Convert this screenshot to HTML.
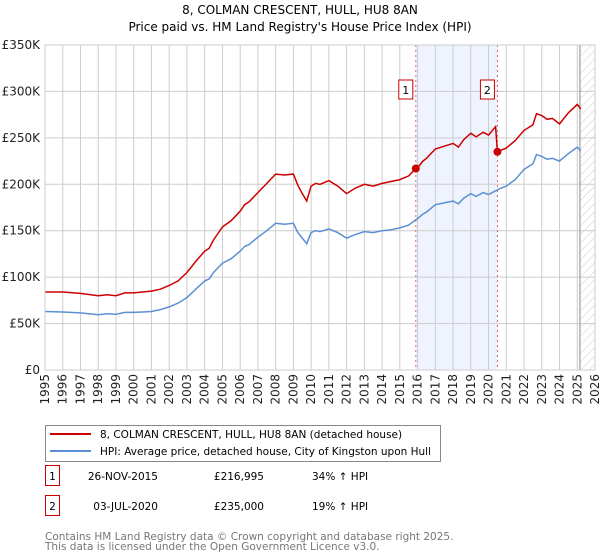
<!DOCTYPE html>
<html><head><meta charset="utf-8"><style>
body{margin:0;background:#fff;font-family:"DejaVu Sans","Liberation Sans",sans-serif;}
#wrap{position:relative;width:600px;height:560px;overflow:hidden}
svg text{font-family:"DejaVu Sans","Liberation Sans",sans-serif}
</style></head><body><div id="wrap">
<svg id="chart" width="600" height="560"></svg>
</div>
<script>
const dates=[1995,1996,1997,1998,1998.5,1999,1999.5,2000,2000.5,2001,2001.5,2002,2002.5,2003,2003.5,2004,2004.25,2004.5,2005,2005.5,2006,2006.25,2006.5,2007,2007.5,2008,2008.5,2009,2009.25,2009.5,2009.75,2010,2010.25,2010.5,2011,2011.5,2012,2012.5,2013,2013.5,2014,2014.5,2015,2015.5,2015.9,2016,2016.3,2016.5,2017,2017.5,2018,2018.3,2018.6,2019,2019.3,2019.7,2020,2020.4,2020.5,2020.6,2021,2021.5,2022,2022.5,2022.7,2023,2023.3,2023.6,2024,2024.5,2025,2025.2];
const hpiValues=[63,62.5,61.5,59.5,60.5,60,62,62,62.5,63,65,68,72,78,87,96,98,105,115,120,128,133,135,143,150,158,157,158,148,142,136,148,150,149,152,148,142,146,149,148,150,151,153,156,162,163,168,170,178,180,182,179,185,190,187,191,189,193,194,195,198,205,216,222,232,230,227,228,225,233,240,236];
const priceValues=[84,84,82.5,80,81,80,83,83,84,85,87,91,96,105,117,128,131,140,154,161,171,178,181,191,201,211,210,211,199,190,182,198,201,200,204,198,190,196,200,198,201,203,205,209,217,218,225,228,238,241,244,240,248,255,251,256,253,262,235,236,239,247,258,264,276,274,270,271,265,277,286,281];
const yTicks=[0,50,100,150,200,250,300,350];
const yTickLabels=["£0","£50K","£100K","£150K","£200K","£250K","£300K","£350K"];
const xYears=[1995,1996,1997,1998,1999,2000,2001,2002,2003,2004,2005,2006,2007,2008,2009,2010,2011,2012,2013,2014,2015,2016,2017,2018,2019,2020,2021,2022,2023,2024,2025,2026];
const saleDates=[2015.9,2020.5];
const saleValues=[216.995,235];
const saleLabels=["1","2"];
const NS="http://www.w3.org/2000/svg";
const svg=document.getElementById('chart');
const L=45,R=595,T=45,B=370;
const x=d=>L+(d-1995)/(2026-1995)*(R-L);
const y=v=>B-v/350*(B-T);
function mk(tag,attrs,parent){const e=document.createElementNS(NS,tag);for(const k in attrs)e.setAttribute(k,attrs[k]);(parent||svg).appendChild(e);return e;}
function txt(s,attrs){const e=mk('text',attrs);e.textContent=s;return e;}
// title
let t=txt("8, COLMAN CRESCENT, HULL, HU8 8AN",{x:300,y:14,'text-anchor':'middle','font-size':12});

t=txt("Price paid vs. HM Land Registry's House Price Index (HPI)",{x:300,y:31,'text-anchor':'middle','font-size':12});

// shaded band
let band=mk('rect',{x:x(saleDates[0]),y:T,width:x(saleDates[1])-x(saleDates[0]),height:B-T,fill:'#eef3fd'});

// hatch
const defs=mk('defs',{});
const pat=mk('pattern',{id:'hatch',width:6,height:6,patternUnits:'userSpaceOnUse',patternTransform:'rotate(45)'},defs);
mk('line',{x1:0,y1:0,x2:0,y2:6,stroke:'#ccc','stroke-width':1},pat);
let h=mk('rect',{x:x(2025.2),y:T,width:R-x(2025.2),height:B-T,fill:'url(#hatch)'});

// grid
yTicks.forEach((v,i)=>{const g=mk('line',{x1:L,x2:R,y1:y(v),y2:y(v),stroke:'#ccc','stroke-width':1});

const lb=txt(yTickLabels[i],{x:L-5,y:y(v)+4,'text-anchor':'end','font-size':12,fill:'#222'});
});
xYears.forEach(yr=>{const g=mk('line',{x1:x(yr),x2:x(yr),y1:T,y2:B,stroke:'#ccc','stroke-width':1});

const lb=txt(String(yr),{x:0,y:0,'text-anchor':'end','font-size':12,fill:'#222',transform:`translate(${x(yr)+4},${B+4}) rotate(-90)`});
});
let nl=mk('line',{x1:x(2025.15),x2:x(2025.15),y1:T,y2:B,stroke:'#999','stroke-width':1.2});

// sale lines
saleDates.forEach((d,i)=>{const l=mk('line',{x1:x(d),x2:x(d),y1:T,y2:B,stroke:'#e06666','stroke-width':1,'stroke-dasharray':'2,3'});

const b=mk('rect',{x:x(d)-17,y:80,width:14,height:19,fill:'#fff',stroke:'#c00','stroke-width':1});

const tt=txt(saleLabels[i],{x:x(d)-10,y:94,'text-anchor':'middle','font-size':11});
});
// series
const pts=vals=>vals.map((v,i)=>x(dates[i]).toFixed(1)+','+y(v).toFixed(1)).join(' ');
let hp=mk('polyline',{points:pts(hpiValues),fill:'none',stroke:'#5b8fd4','stroke-width':1.5});

let pp=mk('polyline',{points:pts(priceValues),fill:'none',stroke:'#cc0000','stroke-width':1.5});

saleDates.forEach((d,i)=>{const c=mk('circle',{cx:x(d),cy:y(saleValues[i]),r:4,fill:'#cc0000'});
});
// axes border
let ab=mk('rect',{x:L,y:T,width:R-L,height:B-T,fill:'none',stroke:'#ccc'});

// legend
let lg=mk('rect',{x:45.5,y:425.5,width:395,height:36,fill:'#fff',stroke:'#888'});

let l1=mk('line',{x1:50,x2:91,y1:434,y2:434,stroke:'#cc0000','stroke-width':2});

let l2=mk('line',{x1:50,x2:91,y1:451,y2:451,stroke:'#5b8fd4','stroke-width':2});

t=txt("8, COLMAN CRESCENT, HULL, HU8 8AN (detached house)",{x:100,y:438,'font-size':10.5});

t=txt("HPI: Average price, detached house, City of Kingston upon Hull",{x:100,y:455,'font-size':10.5});

// table
const rowsD=["26-NOV-2015","03-JUL-2020"],rowsP=["£216,995","£235,000"],rowsH=["34% ↑ HPI","19% ↑ HPI"];
[0,1].forEach(i=>{const yy=i?510:480;
const b=mk('rect',{x:45.5,y:yy-14.5,width:14,height:20,fill:'#fff',stroke:'#c00'});

let a=txt(saleLabels[i],{x:52.5,y:yy,'text-anchor':'middle','font-size':10.5});
a=txt(rowsD[i],{x:158,y:yy,'text-anchor':'end','font-size':10.5});
a=txt(rowsP[i],{x:264,y:yy,'text-anchor':'end','font-size':10.5});
a=txt(rowsH[i],{x:312,y:yy,'font-size':10.5});});
t=txt("Contains HM Land Registry data © Crown copyright and database right 2025.",{x:45,y:540,'font-size':10.5,fill:'#777'});

t=txt("This data is licensed under the Open Government Licence v3.0.",{x:45,y:550,'font-size':10.5,fill:'#777'});

</script></body></html>
